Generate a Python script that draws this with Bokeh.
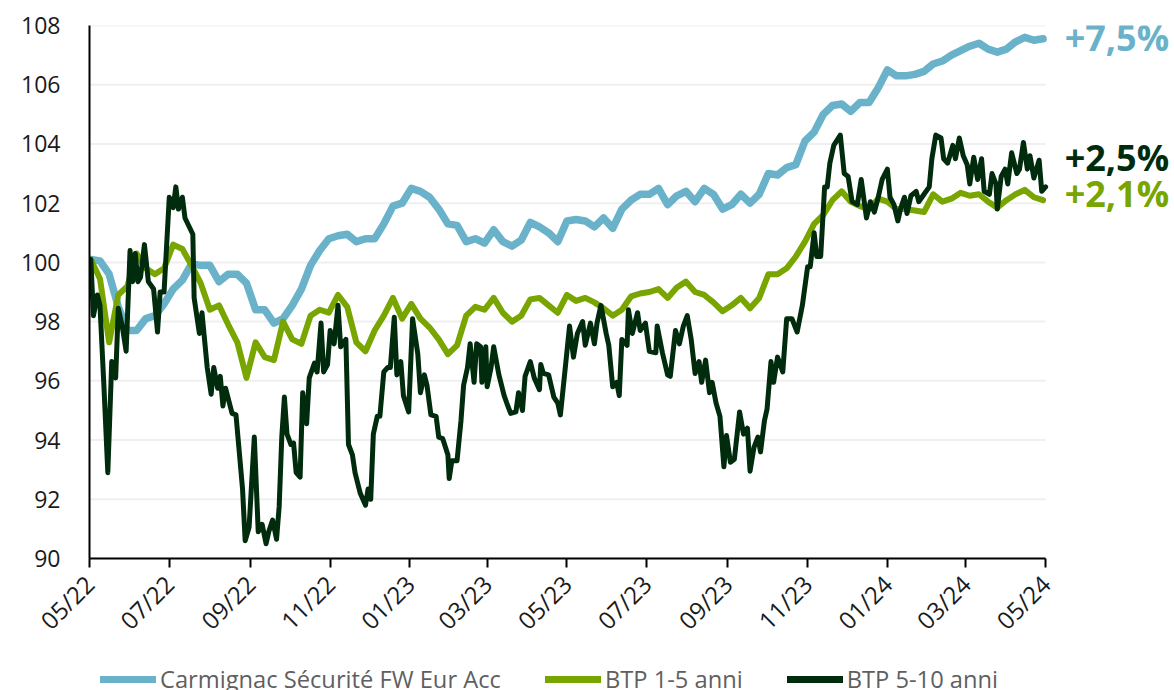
import math
import pandas as pd
from bokeh.plotting import figure
from bokeh.layouts import column
from bokeh.models import (ColumnDataSource, Range1d, FixedTicker, DatetimeTickFormatter,
                          Legend, LegendItem)
from bokeh.core.properties import value
from bokeh.embed import file_html
from bokeh.resources import INLINE

# ---------------- data ----------------
weekly_start = "2022-05-02"
weekly_periods = 105

carmignac = [100.1, 100.05, 99.6, 98.5, 97.7, 97.7, 98.1, 98.2, 98.6, 99.1,
             99.4, 99.95, 99.9, 99.9, 99.35, 99.6, 99.6, 99.3, 98.4, 98.4,
             97.95, 98.1, 98.55, 99.1, 99.9, 100.4, 100.8, 100.9, 100.95, 100.7,
             100.8, 100.8, 101.3, 101.9, 102.0, 102.5, 102.4, 102.2, 101.8, 101.3,
             101.25, 100.7, 100.8, 100.65, 101.1, 100.7, 100.55, 100.75, 101.35, 101.2,
             101.0, 100.7, 101.4, 101.45, 101.4, 101.2, 101.5, 101.15, 101.8, 102.1,
             102.3, 102.3, 102.5, 101.95, 102.25, 102.4, 102.05, 102.5, 102.3, 101.8,
             101.95, 102.3, 102.0, 102.3, 103.0, 102.95, 103.2, 103.3, 104.1, 104.4,
             105.0, 105.3, 105.35, 105.1, 105.4, 105.4, 105.9, 106.5, 106.3, 106.3,
             106.35, 106.45, 106.7, 106.8, 107.0, 107.15, 107.3, 107.4, 107.2, 107.1,
             107.2, 107.45, 107.6, 107.5, 107.55]

btp_1_5 = [100.1, 99.45, 97.3, 98.9, 99.2, 100.3, 99.8, 99.6, 99.8, 100.6,
           100.45, 99.9, 99.3, 98.4, 98.55, 97.9, 97.3, 96.1, 97.3, 96.8,
           96.7, 98.0, 97.4, 97.25, 98.2, 98.4, 98.3, 98.9, 98.5, 97.3,
           97.0, 97.7, 98.2, 98.8, 98.1, 98.6, 98.1, 97.8, 97.4, 96.9,
           97.2, 98.2, 98.5, 98.4, 98.8, 98.3, 98.0, 98.2, 98.75, 98.8,
           98.55, 98.3, 98.9, 98.7, 98.8, 98.65, 98.45, 98.2, 98.4, 98.85,
           98.95, 99.0, 99.1, 98.8, 99.15, 99.35, 99.0, 98.9, 98.65, 98.35,
           98.55, 98.8, 98.45, 98.8, 99.6, 99.6, 99.8, 100.2, 100.7, 101.3,
           101.6, 102.1, 102.4, 102.05, 101.9, 101.8, 102.15, 102.05, 101.8, 101.8,
           101.75, 101.7, 102.3, 102.05, 102.15, 102.35, 102.25, 102.3, 102.05, 101.85,
           102.1, 102.3, 102.45, 102.2, 102.1]

btp_5_10_dates = [
    "2022-05-02", "2022-05-04", "2022-05-07", "2022-05-09", "2022-05-12", "2022-05-15",
    "2022-05-18", "2022-05-21", "2022-05-23", "2022-05-26", "2022-05-29", "2022-06-01",
    "2022-06-03", "2022-06-05", "2022-06-07", "2022-06-09", "2022-06-12", "2022-06-15",
    "2022-06-19", "2022-06-22", "2022-06-24", "2022-06-27", "2022-07-01", "2022-07-04",
    "2022-07-06", "2022-07-08", "2022-07-11", "2022-07-13", "2022-07-19", "2022-07-20",
    "2022-07-24", "2022-07-26", "2022-07-30", "2022-08-02", "2022-08-04", "2022-08-07",
    "2022-08-09", "2022-08-11", "2022-08-13", "2022-08-18", "2022-08-21", "2022-08-23",
    "2022-08-26", "2022-08-28", "2022-08-31", "2022-09-04", "2022-09-07", "2022-09-10",
    "2022-09-13", "2022-09-15", "2022-09-18", "2022-09-21", "2022-09-23", "2022-09-25",
    "2022-09-27", "2022-09-29", "2022-10-02", "2022-10-04", "2022-10-06", "2022-10-09",
    "2022-10-11", "2022-10-14", "2022-10-16", "2022-10-20", "2022-10-22", "2022-10-25",
    "2022-10-27", "2022-10-30", "2022-11-01", "2022-11-04", "2022-11-07", "2022-11-09",
    "2022-11-13", "2022-11-15", "2022-11-18", "2022-11-20", "2022-11-24", "2022-11-28",
    "2022-11-30", "2022-12-02", "2022-12-04", "2022-12-07", "2022-12-09", "2022-12-12",
    "2022-12-15", "2022-12-17", "2022-12-20", "2022-12-22", "2022-12-25", "2022-12-27",
    "2022-12-31", "2023-01-03", "2023-01-07", "2023-01-09", "2023-01-12", "2023-01-14",
    "2023-01-17", "2023-01-21", "2023-01-23", "2023-01-26", "2023-01-30", "2023-01-31",
    "2023-02-02", "2023-02-06", "2023-02-09", "2023-02-11", "2023-02-14", "2023-02-16",
    "2023-02-19", "2023-02-21", "2023-02-24", "2023-02-25", "2023-02-28", "2023-03-01",
    "2023-03-04", "2023-03-06", "2023-03-10", "2023-03-14", "2023-03-16", "2023-03-19",
    "2023-03-23", "2023-03-25", "2023-03-28", "2023-03-30", "2023-04-03", "2023-04-06",
    "2023-04-10", "2023-04-11", "2023-04-13", "2023-04-17", "2023-04-21", "2023-04-24",
    "2023-04-26", "2023-04-30", "2023-05-03", "2023-05-06", "2023-05-09", "2023-05-13",
    "2023-05-15", "2023-05-19", "2023-05-22", "2023-05-24", "2023-05-27", "2023-05-31",
    "2023-06-02", "2023-06-05", "2023-06-08", "2023-06-10", "2023-06-12", "2023-06-16",
    "2023-06-17", "2023-06-20", "2023-06-24", "2023-06-26", "2023-06-30", "2023-07-03",
    "2023-07-08", "2023-07-09", "2023-07-13", "2023-07-17", "2023-07-19", "2023-07-23",
    "2023-07-26", "2023-07-29", "2023-08-01", "2023-08-04", "2023-08-07", "2023-08-10",
    "2023-08-12", "2023-08-15", "2023-08-18", "2023-08-20", "2023-08-23", "2023-08-26",
    "2023-08-29", "2023-08-31", "2023-09-03", "2023-09-06", "2023-09-10", "2023-09-13",
    "2023-09-16", "2023-09-18", "2023-09-21", "2023-09-24", "2023-09-26", "2023-09-29",
    "2023-10-01", "2023-10-04", "2023-10-06", "2023-10-09", "2023-10-13", "2023-10-16",
    "2023-10-20", "2023-10-24", "2023-10-28", "2023-11-01", "2023-11-03", "2023-11-06",
    "2023-11-08", "2023-11-11", "2023-11-14", "2023-11-16", "2023-11-18", "2023-11-21",
    "2023-11-26", "2023-11-29", "2023-12-02", "2023-12-05", "2023-12-09", "2023-12-12",
    "2023-12-16", "2023-12-19", "2023-12-22", "2023-12-25", "2023-12-28", "2024-01-01",
    "2024-01-03", "2024-01-06", "2024-01-09", "2024-01-11", "2024-01-14", "2024-01-16",
    "2024-01-19", "2024-01-23", "2024-01-25", "2024-01-29", "2024-02-02", "2024-02-04",
    "2024-02-07", "2024-02-11", "2024-02-13", "2024-02-16", "2024-02-20", "2024-02-22",
    "2024-02-25", "2024-02-28", "2024-03-02", "2024-03-04", "2024-03-07", "2024-03-10",
    "2024-03-13", "2024-03-15", "2024-03-19", "2024-03-21", "2024-03-24", "2024-03-25",
    "2024-03-28", "2024-03-31", "2024-04-02", "2024-04-05", "2024-04-09", "2024-04-11",
    "2024-04-14", "2024-04-17", "2024-04-19", "2024-04-22", "2024-04-24", "2024-04-26",
    "2024-04-28", "2024-05-01"]

btp_5_10 = [
    100.1, 98.2, 98.9, 98.55, 95.85, 92.9,
    96.65, 96.1, 98.45, 97.85, 97.0, 100.4,
    99.35, 100.3, 99.35, 99.5, 100.6, 99.35,
    99.1, 97.65, 99.0, 99.0, 102.2, 101.85,
    102.55, 101.8, 102.2, 101.5, 100.95, 98.8,
    97.6, 98.3, 96.45, 95.55, 96.45, 95.75,
    96.15, 95.15, 95.75, 94.9, 94.85, 93.85,
    92.35, 90.6, 91.05, 94.1, 90.9, 91.15,
    90.5, 90.9, 91.3, 90.65, 91.75, 94.1,
    95.45, 94.2, 93.85, 93.9, 92.9, 92.75,
    95.6, 94.55, 96.1, 96.6, 96.3, 97.95,
    96.3, 96.55, 97.7, 97.25, 98.55, 97.15,
    97.4, 93.85, 93.5, 92.9, 92.2, 91.8,
    92.35, 92.0, 94.2, 94.8, 94.8, 96.3,
    96.45, 96.45, 98.15, 96.2, 96.65, 95.5,
    94.95, 98.1, 96.9, 95.6, 96.2, 95.85,
    94.85, 94.8, 94.1, 94.05, 93.5, 92.7,
    93.3, 93.3, 94.65, 95.85, 96.45, 97.25,
    95.95, 97.25, 97.15, 95.95, 97.15, 95.8,
    96.45, 97.15, 96.2, 95.5, 95.25, 94.9,
    94.95, 95.6, 95.0, 96.15, 96.65, 96.1,
    95.7, 96.55, 96.25, 96.2, 95.45, 95.25,
    94.85, 96.55, 97.85, 96.8, 97.6, 98.0,
    97.2, 97.95, 97.25, 97.95, 98.55, 97.6,
    97.2, 95.8, 95.95, 95.5, 97.4, 97.2,
    98.4, 97.6, 98.3, 97.7, 97.95, 97.0,
    96.95, 97.85, 96.95, 96.2, 96.15, 97.7,
    97.25, 97.85, 98.2, 97.4, 96.25, 96.65,
    95.95, 96.7, 95.6, 95.95, 95.25, 94.8,
    93.1, 94.15, 93.25, 93.35, 94.95, 94.2,
    94.4, 92.95, 93.75, 94.1, 93.6, 94.65,
    95.05, 96.65, 95.95, 96.8, 96.3, 98.1,
    98.1, 97.65, 98.55, 99.85, 99.85, 101.0,
    100.2, 100.2, 102.55, 102.55, 103.35, 103.95,
    104.3, 103.0, 102.9, 102.05, 101.95, 102.8,
    101.5, 102.05, 101.7, 102.2, 102.8, 103.15,
    102.2, 101.95, 101.4, 101.8, 102.2, 101.65,
    102.25, 102.4, 102.05, 102.3, 102.55, 103.5,
    104.3, 104.2, 103.5, 103.35, 103.95, 103.5,
    104.2, 103.6, 103.3, 102.65, 103.55, 102.8,
    103.5, 102.4, 102.3, 103.0, 102.65, 101.8,
    102.9, 103.15, 102.65, 103.7, 103.0, 103.15,
    104.05, 103.15, 103.6, 102.85, 103.15, 103.45,
    102.4, 102.55]

series_names = ["Carmignac Sécurité FW Eur Acc", "BTP 1-5 anni", "BTP 5-10 anni"]
end_labels = ["+7,5%", "+2,5%", "+2,1%"]
y_ticks = [90, 92, 94, 96, 98, 100, 102, 104, 106, 108]
x_tick_dates = ["2022-05-01", "2022-07-01", "2022-09-01", "2022-11-01", "2023-01-01",
                "2023-03-01", "2023-05-01", "2023-07-01", "2023-09-01", "2023-11-01",
                "2024-01-01", "2024-03-01", "2024-05-01"]

# ---------------- style ----------------
C_BLUE = "#6AB2C9"
C_GREEN = "#78A500"
C_DARK = "#002B0C"
FONT = "Open Sans"
W = 1174
LABEL_PAD_DAYS = 98.5       # room right of the axis for the end labels
label_offsets = [0.05, 1.0, 0.22]

weekly_dates = pd.date_range(weekly_start, periods=weekly_periods, freq="7D")
src_blue = ColumnDataSource(dict(x=weekly_dates, y=carmignac))
src_green = ColumnDataSource(dict(x=weekly_dates, y=btp_1_5))
src_dark = ColumnDataSource(dict(x=pd.to_datetime(btp_5_10_dates), y=btp_5_10))

x_start = pd.Timestamp(x_tick_dates[0])
x_end = pd.Timestamp(x_tick_dates[-1])

p = figure(width=W, height=660, x_axis_type="datetime",
           output_backend="svg", toolbar_location=None,
           x_range=Range1d(x_start, x_end + pd.Timedelta(days=LABEL_PAD_DAYS)),
           y_range=Range1d(y_ticks[0], y_ticks[-1]),
           min_border_left=89, min_border_right=0, min_border_top=25,
           min_border_bottom=102)
p.outline_line_color = None
p.background_fill_color = "white"
p.border_fill_color = "white"

# horizontal grid lines, limited to the data period
p.xgrid.grid_line_color = None
p.ygrid.grid_line_color = None
grid_src = ColumnDataSource(dict(x0=[x_start] * len(y_ticks), x1=[x_end] * len(y_ticks),
                                 y=y_ticks))
p.segment(x0="x0", x1="x1", y0="y", y1="y", source=grid_src,
          line_color="#efefef", line_width=2)

r_blue = p.line("x", "y", source=src_blue, line_color=C_BLUE, line_width=7.5,
                line_join="round", line_cap="round")
r_green = p.line("x", "y", source=src_green, line_color=C_GREEN, line_width=6,
                 line_join="round", line_cap="round")
r_dark = p.line("x", "y", source=src_dark, line_color=C_DARK, line_width=5,
                line_join="round", line_cap="round")

# axes
p.yaxis.ticker = FixedTicker(ticks=y_ticks)
p.yaxis.axis_line_color = "black"
p.yaxis.axis_line_width = 2
p.yaxis.major_tick_line_color = None
p.yaxis.minor_tick_line_color = None
p.yaxis.major_label_text_font = FONT
p.yaxis.major_label_text_font_size = "23px"
p.yaxis.major_label_text_color = "#1a1a1a"
p.yaxis.major_label_standoff = 23

tick_ms = [pd.Timestamp(d).value // 10**6 for d in x_tick_dates]
p.xaxis.ticker = FixedTicker(ticks=tick_ms)
p.xaxis.bounds = (tick_ms[0], tick_ms[-1])
fmt = "%m/%y"
p.xaxis.formatter = DatetimeTickFormatter(days=fmt, months=fmt, years=fmt, hours=fmt,
                                          minutes=fmt, seconds=fmt, milliseconds=fmt,
                                          microseconds=fmt, minsec=fmt, hourmin=fmt)
p.xaxis.axis_line_color = "black"
p.xaxis.axis_line_width = 2
p.xaxis.major_tick_in = 0
p.xaxis.major_tick_out = 9
p.xaxis.major_tick_line_width = 2
p.xaxis.major_tick_line_color = "black"
p.xaxis.minor_tick_line_color = None
p.xaxis.major_label_orientation = math.pi / 4
p.xaxis.major_label_text_font = FONT
p.xaxis.major_label_text_font_size = "24px"
p.xaxis.major_label_text_color = "#1a1a1a"
p.xaxis.major_label_standoff = 12

# end-of-line labels
last_vals = [carmignac[-1], btp_5_10[-1], btp_1_5[-1]]
lab_src = ColumnDataSource(dict(
    x=[x_end] * 3,
    y=[v + o for v, o in zip(last_vals, label_offsets)],
    text=end_labels,
    color=[C_BLUE, C_DARK, C_GREEN]))
p.text(x="x", y="y", text="text", source=lab_src, text_color="color",
       text_font=value(FONT), text_font_size=value("36px"), text_font_style="bold",
       text_baseline="middle", text_align="left", x_offset=19)

# ---------------- legend strip ----------------
leg = figure(width=W, height=30, output_backend="svg", toolbar_location=None,
             min_border=0, x_axis_location=None, y_axis_location=None,
             x_range=Range1d(0, 1), y_range=Range1d(0, 1))
leg.outline_line_color = None
leg.xgrid.grid_line_color = None
leg.ygrid.grid_line_color = None
leg.background_fill_color = "white"
leg.border_fill_color = "white"
nan = float("nan")
l1 = leg.line("x", "y", source=ColumnDataSource(dict(x=[nan, nan], y=[nan, nan])),
              line_color=C_BLUE, line_width=7, line_cap="round")
l2 = leg.line("x", "y", source=ColumnDataSource(dict(x=[nan, nan], y=[nan, nan])),
              line_color=C_GREEN, line_width=7, line_cap="round")
l3 = leg.line("x", "y", source=ColumnDataSource(dict(x=[nan, nan], y=[nan, nan])),
              line_color=C_DARK, line_width=7, line_cap="round")
legend = Legend(items=[LegendItem(label=series_names[0], renderers=[l1]),
                       LegendItem(label=series_names[1], renderers=[l2]),
                       LegendItem(label=series_names[2], renderers=[l3])],
                location=(11, -5), orientation="horizontal",
                background_fill_alpha=0, border_line_color=None,
                label_text_font=FONT, label_text_font_size="23.7px",
                label_text_color="#5f5f5f", glyph_width=56, glyph_height=24,
                label_height=24, label_standoff=4, spacing=44, padding=0, margin=0)
leg.add_layout(legend)

page = column(p, leg, spacing=0)
open("out.html", "w").write(file_html(page, INLINE))
